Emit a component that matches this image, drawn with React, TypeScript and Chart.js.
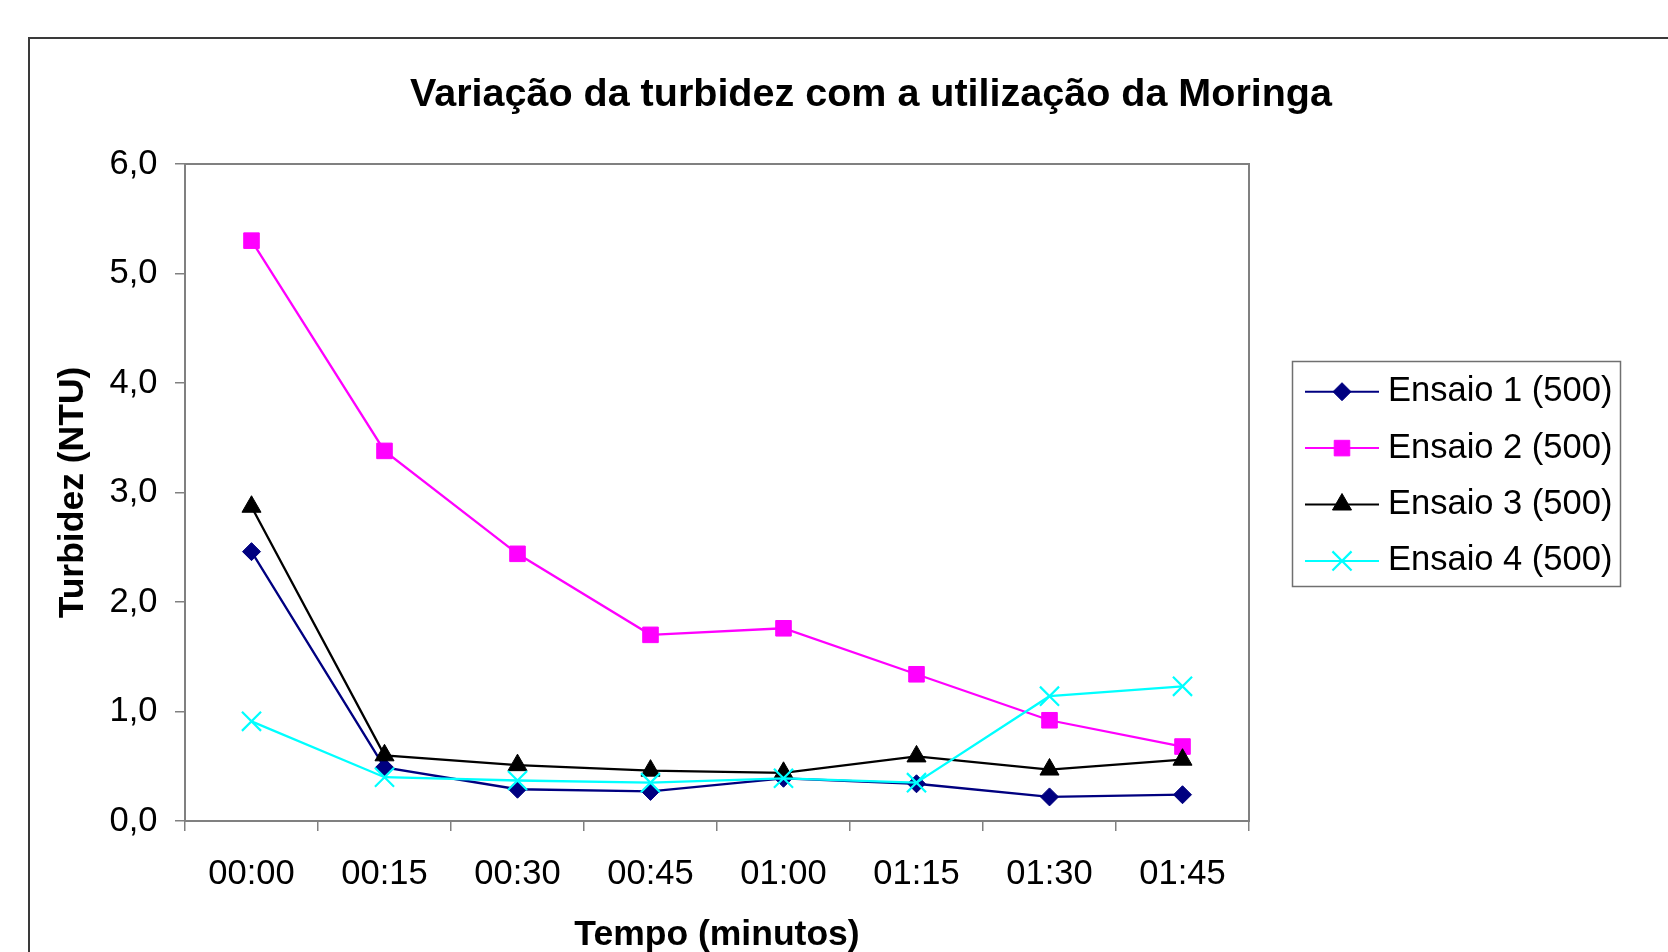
import React, { useEffect, useRef } from 'react';
import { Chart, registerables } from 'chart.js';
import { drawPoint } from 'chart.js/helpers';

Chart.register(...registerables);

const categories = ['00:00', '00:15', '00:30', '00:45', '01:00', '01:15', '01:30', '01:45'];
const ensaio1 = [2.46, 0.49, 0.29, 0.27, 0.39, 0.34, 0.22, 0.24];
const ensaio2 = [5.3, 3.38, 2.44, 1.7, 1.76, 1.34, 0.92, 0.68];
const ensaio3 = [2.87, 0.6, 0.51, 0.46, 0.44, 0.59, 0.47, 0.56];
const ensaio4 = [0.91, 0.4, 0.37, 0.35, 0.39, 0.35, 1.14, 1.23];
const seriesNames = ['Ensaio 1 (500)', 'Ensaio 2 (500)', 'Ensaio 3 (500)', 'Ensaio 4 (500)'];
const yTickLabels = ['0,0', '1,0', '2,0', '3,0', '4,0', '5,0', '6,0'];
const chartTitle = 'Variação da turbidez com a utilização da Moringa';
const xTitle = 'Tempo (minutos)';
const yTitle = 'Turbidez (NTU)';

const FONT = '"Liberation Sans", Arial, Helvetica, sans-serif';

export default function App() {
  const ref = useRef<HTMLCanvasElement | null>(null);

  useEffect(() => {
    const canvas = ref.current;
    if (!canvas) return;
    Chart.defaults.font.family = FONT;

    const decor = {
      id: 'decor',
      beforeDraw(chart: any) {
        const ctx = chart.ctx;
        ctx.save();
        ctx.fillStyle = '#ffffff';
        ctx.fillRect(0, 0, chart.width, chart.height);
        ctx.strokeStyle = '#3a3a3a';
        ctx.lineWidth = 2;
        ctx.strokeRect(29, 38, 1800, 1000);
        ctx.restore();
      },
      beforeDatasetsDraw(chart: any) {
        const ctx = chart.ctx;
        const a = chart.chartArea;
        ctx.save();
        ctx.strokeStyle = '#808080';
        ctx.lineWidth = 2;
        ctx.strokeRect(a.left, a.top, a.right - a.left, a.bottom - a.top);
        ctx.restore();
      },
      afterDraw(chart: any) {
        const ctx = chart.ctx;
        ctx.save();
        // title
        ctx.fillStyle = '#000';
        ctx.font = `bold 39.5px ${FONT}`;
        ctx.textAlign = 'center';
        ctx.textBaseline = 'middle';
        ctx.fillText(chartTitle, 871, 95);
        // legend
        ctx.strokeStyle = '#707070';
        ctx.lineWidth = 1.5;
        ctx.strokeRect(1292.5, 361.5, 328, 225);
        chart.data.datasets.forEach((ds: any, i: number) => {
          const y = 391.7 + i * 56.4;
          ctx.strokeStyle = ds.borderColor;
          ctx.lineWidth = 2;
          ctx.beginPath();
          ctx.moveTo(1305, y);
          ctx.lineTo(1379, y);
          ctx.stroke();
          ctx.fillStyle = ds.pointBackgroundColor;
          ctx.strokeStyle = ds.pointBorderColor;
          ctx.lineWidth = ds.pointBorderWidth;
          drawPoint(ctx, { pointStyle: ds.pointStyle, radius: ds.pointRadius, rotation: 0, borderWidth: ds.pointBorderWidth }, 1342, y);
          ctx.fillStyle = '#000';
          ctx.font = `34.5px ${FONT}`;
          ctx.textAlign = 'left';
          ctx.textBaseline = 'middle';
          ctx.fillText(ds.label, 1388, y);
        });
        ctx.restore();
      },
    };

    const mk = (label: string, data: number[], color: string, style: string, radius: number, order: number) => ({
      label,
      data,
      borderColor: color,
      backgroundColor: color,
      pointBackgroundColor: color,
      pointBorderColor: color,
      pointBorderWidth: style === 'crossRot' ? 2.2 : 1,
      borderWidth: 2.3,
      pointStyle: style,
      pointRadius: radius,
      pointHoverRadius: radius,
      tension: 0,
      order,
    });

    const chart = new Chart(canvas, {
      type: 'line',
      data: {
        labels: categories,
        datasets: [
          mk(seriesNames[0], ensaio1, '#000080', 'rectRot', 9, 4),
          mk(seriesNames[1], ensaio2, '#FF00FF', 'rect', 11, 3),
          mk(seriesNames[2], ensaio3, '#000000', 'triangle', 11, 2),
          mk(seriesNames[3], ensaio4, '#00FFFF', 'crossRot', 13.5, 1),
        ],
      },
      options: {
        responsive: false,
        animation: false,
        layout: { padding: { left: 0, top: 164, right: 419, bottom: 0 } },
        plugins: {
          legend: { display: false },
          title: { display: false },
          tooltip: { enabled: false },
        },
        scales: {
          x: {
            type: 'category',
            offset: true,
            grid: { offset: true, drawOnChartArea: false, drawTicks: true, tickLength: 10, color: '#808080', lineWidth: 1.5 },
            border: { display: true, color: '#808080', width: 2 },
            ticks: { color: '#000', font: { size: 34.5 }, padding: 23, maxRotation: 0, autoSkip: false },
            title: { display: true, text: xTitle, color: '#000', font: { size: 35.5, weight: 'bold' }, padding: { top: 0, bottom: -5 } },
            afterFit: (s: any) => { s.height = 131; },
          },
          y: {
            min: 0,
            max: 6,
            grid: { drawOnChartArea: false, drawTicks: true, tickLength: 10, color: '#808080', lineWidth: 1.5 },
            border: { display: true, color: '#808080', width: 2 },
            ticks: {
              stepSize: 1,
              color: '#000',
              font: { size: 34.5 },
              padding: 17.5,
              callback: (_v: any, i: number) => yTickLabels[i],
            },
            title: { display: true, text: yTitle, color: '#000', font: { size: 35.5, weight: 'bold' }, padding: { top: 52, bottom: 0 } },
            afterFit: (s: any) => { s.width = 185; },
          },
        },
      },
      plugins: [decor],
    } as any);

    return () => chart.destroy();
  }, []);

  return (
    <div style={{ position: 'fixed', left: 0, top: 0, width: 1668, height: 952, background: '#fff' }}>
      <canvas ref={ref} width={1668} height={952} style={{ display: 'block' }} />
    </div>
  );
}
